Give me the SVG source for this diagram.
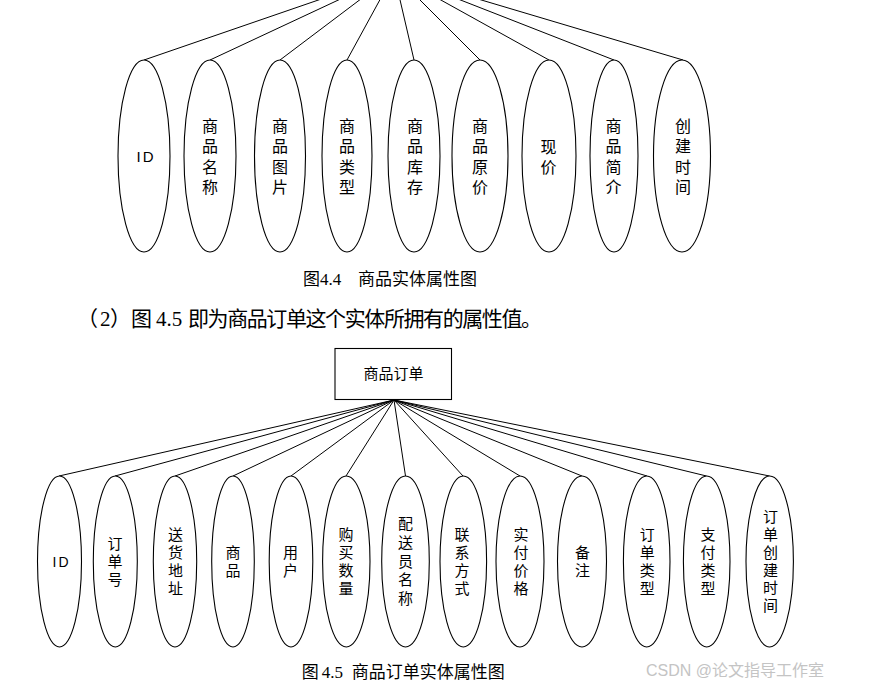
<svg xmlns="http://www.w3.org/2000/svg" width="869" height="685" viewBox="0 0 869 685">
<style>
.e{fill:#fff;stroke:#000;stroke-width:1.1}
.c line{stroke:#000;stroke-width:1}
.t{font-family:"Noto Sans CJK SC","Liberation Sans",sans-serif;fill:#000;text-anchor:middle}
.t16{font-size:16px}
.t15{font-size:15px}
.id{font-family:"Liberation Sans","Noto Sans CJK SC",sans-serif;fill:#000;text-anchor:middle;letter-spacing:2px}
.cap{font-family:"Liberation Serif","Noto Sans CJK SC",serif;fill:#000;font-size:17px}
.body{font-family:"Liberation Serif","Noto Sans CJK SC",serif;fill:#000;font-size:21px}
</style>
<rect width="869" height="685" fill="#fff"/>

<g id="connectors-top" class="c">
<line x1="394" y1="-26" x2="144" y2="60"/>
<line x1="394" y1="-26" x2="210" y2="60"/>
<line x1="394" y1="-26" x2="280" y2="60"/>
<line x1="394" y1="-26" x2="347" y2="60"/>
<line x1="394" y1="-26" x2="414" y2="60"/>
<line x1="394" y1="-26" x2="480" y2="60"/>
<line x1="394" y1="-26" x2="549" y2="60"/>
<line x1="394" y1="-26" x2="614" y2="60"/>
<line x1="394" y1="-26" x2="683" y2="60"/>
</g>

<g id="a-id"><ellipse class="e" cx="144" cy="156" rx="26" ry="96"/><text class="id" x="146" y="162" font-size="15">ID</text></g>
<g id="a-name"><ellipse class="e" cx="210" cy="156" rx="26" ry="96"/><text class="t t16"><tspan x="210" y="132">商</tspan><tspan x="210" y="152.3">品</tspan><tspan x="210" y="172.7">名</tspan><tspan x="210" y="193">称</tspan></text></g>
<g id="a-pic"><ellipse class="e" cx="280" cy="156" rx="25.5" ry="96"/><text class="t t16"><tspan x="280" y="132">商</tspan><tspan x="280" y="152.3">品</tspan><tspan x="280" y="172.7">图</tspan><tspan x="280" y="193">片</tspan></text></g>
<g id="a-type"><ellipse class="e" cx="347" cy="156" rx="25" ry="96"/><text class="t t16"><tspan x="347" y="132">商</tspan><tspan x="347" y="152.3">品</tspan><tspan x="347" y="172.7">类</tspan><tspan x="347" y="193">型</tspan></text></g>
<g id="a-stock"><ellipse class="e" cx="414" cy="156" rx="26" ry="96"/><text class="t t16"><tspan x="415" y="132">商</tspan><tspan x="415" y="152.3">品</tspan><tspan x="415" y="172.7">库</tspan><tspan x="415" y="193">存</tspan></text></g>
<g id="a-oprice"><ellipse class="e" cx="480" cy="156" rx="28" ry="96"/><text class="t t16"><tspan x="480" y="132">商</tspan><tspan x="480" y="152.3">品</tspan><tspan x="480" y="172.7">原</tspan><tspan x="480" y="193">价</tspan></text></g>
<g id="a-price"><ellipse class="e" cx="549" cy="156" rx="27" ry="96"/><text class="t t16"><tspan x="548.5" y="152.5">现</tspan><tspan x="548.5" y="172.7">价</tspan></text></g>
<g id="a-intro"><ellipse class="e" cx="614" cy="156" rx="24" ry="96"/><text class="t t16"><tspan x="613.5" y="132">商</tspan><tspan x="613.5" y="152.3">品</tspan><tspan x="613.5" y="172.7">简</tspan><tspan x="613.5" y="193">介</tspan></text></g>
<g id="a-ctime"><ellipse class="e" cx="682" cy="156" rx="28.5" ry="96"/><text class="t t16"><tspan x="683" y="132">创</tspan><tspan x="683" y="152.3">建</tspan><tspan x="683" y="172.7">时</tspan><tspan x="683" y="193">间</tspan></text></g>

<text class="cap"><tspan x="303" y="285">图</tspan><tspan x="320" y="285">4.4</tspan><tspan x="358" y="285">商品实体属性图</tspan></text>

<text class="body"><tspan x="77" y="326">（</tspan><tspan x="100" y="326">2</tspan><tspan x="110" y="326">）</tspan><tspan x="131" y="326">图</tspan><tspan x="156" y="326">4.5</tspan><tspan x="188" y="326" textLength="354" lengthAdjust="spacing">即为商品订单这个实体所拥有的属性值。</tspan></text>

<g id="connectors-bottom" class="c">
<line x1="394" y1="400" x2="59" y2="476"/>
<line x1="394" y1="400" x2="115" y2="476"/>
<line x1="394" y1="400" x2="175" y2="476"/>
<line x1="394" y1="400" x2="233" y2="476"/>
<line x1="394" y1="400" x2="291" y2="476"/>
<line x1="394" y1="400" x2="346" y2="476"/>
<line x1="394" y1="400" x2="405.5" y2="476"/>
<line x1="394" y1="400" x2="463" y2="476"/>
<line x1="394" y1="400" x2="520" y2="476"/>
<line x1="394" y1="400" x2="582" y2="476"/>
<line x1="394" y1="400" x2="647" y2="476"/>
<line x1="394" y1="400" x2="706.5" y2="476"/>
<line x1="394" y1="400" x2="769.5" y2="476"/>
</g>

<g id="order"><rect x="335" y="348.5" width="116.5" height="51" fill="#fff" stroke="#000" stroke-width="1.1"/><text class="t t15" x="393.5" y="379">商品订单</text></g>

<g id="b-id"><ellipse class="e" cx="59.5" cy="561.5" rx="22" ry="85.5"/><text class="id" x="61.5" y="567" font-size="14">ID</text></g>
<g id="b-no"><ellipse class="e" cx="115.3" cy="561.5" rx="22" ry="85.5"/><text class="t t15"><tspan x="115" y="549.2">订</tspan><tspan x="115" y="567.2">单</tspan><tspan x="115" y="585.2">号</tspan></text></g>
<g id="b-addr"><ellipse class="e" cx="175" cy="561.5" rx="21.7" ry="85.5"/><text class="t t15"><tspan x="175.5" y="540.2">送</tspan><tspan x="175.5" y="558.2">货</tspan><tspan x="175.5" y="576.2">地</tspan><tspan x="175.5" y="594.2">址</tspan></text></g>
<g id="b-goods"><ellipse class="e" cx="233" cy="561.5" rx="21.3" ry="85.5"/><text class="t t15"><tspan x="233" y="558.2">商</tspan><tspan x="233" y="576.2">品</tspan></text></g>
<g id="b-user"><ellipse class="e" cx="291" cy="561.5" rx="21.8" ry="85.5"/><text class="t t15"><tspan x="290.5" y="557.5">用</tspan><tspan x="290.5" y="575.5">户</tspan></text></g>
<g id="b-qty"><ellipse class="e" cx="346.3" cy="561.5" rx="23.7" ry="85.5"/><text class="t t15"><tspan x="346" y="540.2">购</tspan><tspan x="346" y="558.2">买</tspan><tspan x="346" y="576.2">数</tspan><tspan x="346" y="594.2">量</tspan></text></g>
<g id="b-courier"><ellipse class="e" cx="405.5" cy="561.5" rx="23.8" ry="85.5"/><text class="t t15"><tspan x="405.5" y="529.2">配</tspan><tspan x="405.5" y="547.9">送</tspan><tspan x="405.5" y="566.6">员</tspan><tspan x="405.5" y="585.3">名</tspan><tspan x="405.5" y="604">称</tspan></text></g>
<g id="b-contact"><ellipse class="e" cx="463.3" cy="561.5" rx="23.3" ry="85.5"/><text class="t t15"><tspan x="462" y="540.2">联</tspan><tspan x="462" y="558.2">系</tspan><tspan x="462" y="576.2">方</tspan><tspan x="462" y="594.2">式</tspan></text></g>
<g id="b-paid"><ellipse class="e" cx="520" cy="561.5" rx="24" ry="85.5"/><text class="t t15"><tspan x="521" y="540.2">实</tspan><tspan x="521" y="558.2">付</tspan><tspan x="521" y="576.2">价</tspan><tspan x="521" y="594.2">格</tspan></text></g>
<g id="b-note"><ellipse class="e" cx="582" cy="561.5" rx="24.5" ry="85.5"/><text class="t t15"><tspan x="582.5" y="557.5">备</tspan><tspan x="582.5" y="575.5">注</tspan></text></g>
<g id="b-otype"><ellipse class="e" cx="646.7" cy="561.5" rx="23.3" ry="85.5"/><text class="t t15"><tspan x="647.3" y="540.2">订</tspan><tspan x="647.3" y="558.2">单</tspan><tspan x="647.3" y="576.2">类</tspan><tspan x="647.3" y="594.2">型</tspan></text></g>
<g id="b-ptype"><ellipse class="e" cx="706.7" cy="561.5" rx="23.3" ry="85.5"/><text class="t t15"><tspan x="708" y="540.2">支</tspan><tspan x="708" y="558.2">付</tspan><tspan x="708" y="576.2">类</tspan><tspan x="708" y="594.2">型</tspan></text></g>
<g id="b-ctime"><ellipse class="e" cx="769.7" cy="561.5" rx="23.7" ry="85.5"/><text class="t t15"><tspan x="770.5" y="522.4">订</tspan><tspan x="770.5" y="540.1">单</tspan><tspan x="770.5" y="557.8">创</tspan><tspan x="770.5" y="575.5">建</tspan><tspan x="770.5" y="593.2">时</tspan><tspan x="770.5" y="610.9">间</tspan></text></g>

<text class="cap"><tspan x="301.7" y="678">图</tspan><tspan x="321.7" y="678">4.5</tspan><tspan x="351.7" y="678">商品订单实体属性图</tspan></text>

<text x="646" y="676" font-family="Liberation Sans,Noto Sans CJK SC,sans-serif" font-size="16" fill="#c4c4c4">CSDN @论文指导工作室</text>
</svg>
